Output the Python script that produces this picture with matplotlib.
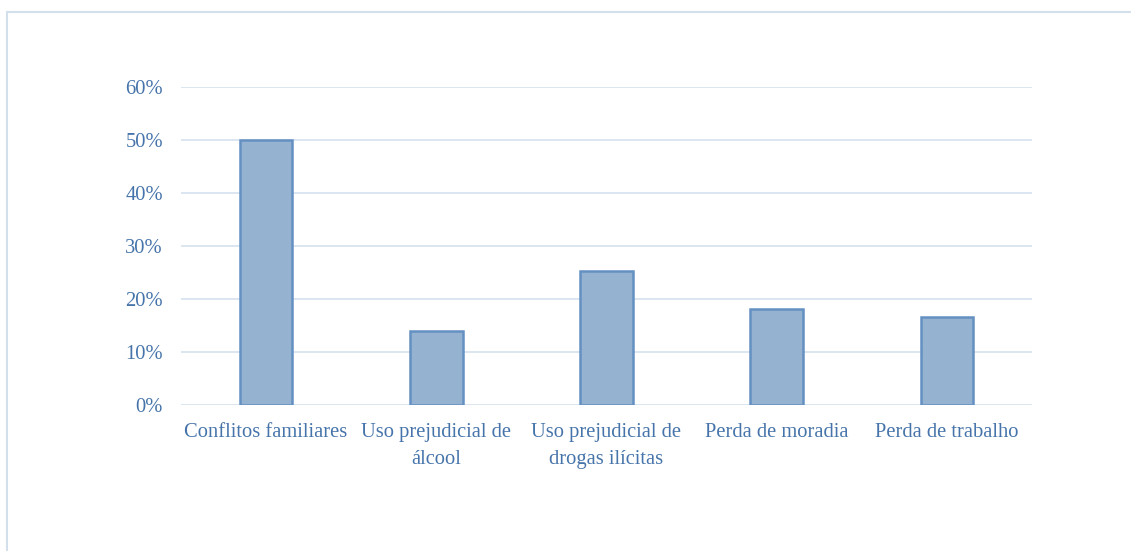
import matplotlib.pyplot as plt
from matplotlib.patches import Rectangle
from matplotlib.ticker import PercentFormatter

categories = ["Conflitos familiares", "Uso prejudicial de\nálcool",
              "Uso prejudicial de\ndrogas ilícitas", "Perda de moradia",
              "Perda de trabalho"]
values = [50.0, 14.0, 25.3, 18.1, 16.6]
y_ticks = [0, 10, 20, 30, 40, 50, 60]

TEXT = "#4674AA"
FILL = "#95B3D0"
EDGE = "#6490C2"
GRID = "#D5E1EE"


def main():
    plt.rcParams['font.family'] = ['Liberation Serif', 'DejaVu Serif']
    fig = plt.figure(figsize=(11.31, 5.51), dpi=100)
    fig.patch.set_facecolor("white")
    ax = fig.add_axes([0.160, 0.265, 0.7525, 0.577])

    x = range(len(categories))
    ax.bar(x, values, width=0.31, color=FILL, edgecolor=EDGE, linewidth=1.8, zorder=3)

    ax.set_ylim(0, 60)
    ax.set_xlim(-0.5, len(categories) - 0.5)
    ax.set_yticks(y_ticks)
    ax.yaxis.set_major_formatter(PercentFormatter(decimals=0))
    ax.set_xticks(list(x))
    ax.set_xticklabels(categories, linespacing=1.6)
    ax.grid(axis="y", color=GRID, linewidth=1.2, zorder=0)
    for s in ax.spines.values():
        s.set_visible(False)
    ax.tick_params(axis="both", length=0, labelsize=14.8, colors=TEXT)
    ax.tick_params(axis="y", pad=13)
    ax.tick_params(axis="x", pad=13)

    # light frame around the chart area
    fig.patches.append(Rectangle((7 / 1131, -0.1), 2, (551 - 12) / 551 + 0.1,
                                 transform=fig.transFigure, fill=False,
                                 edgecolor="#D3E0EC", linewidth=1.5))

    fig.savefig("out.png", dpi=100)


if __name__ == "__main__":
    main()
